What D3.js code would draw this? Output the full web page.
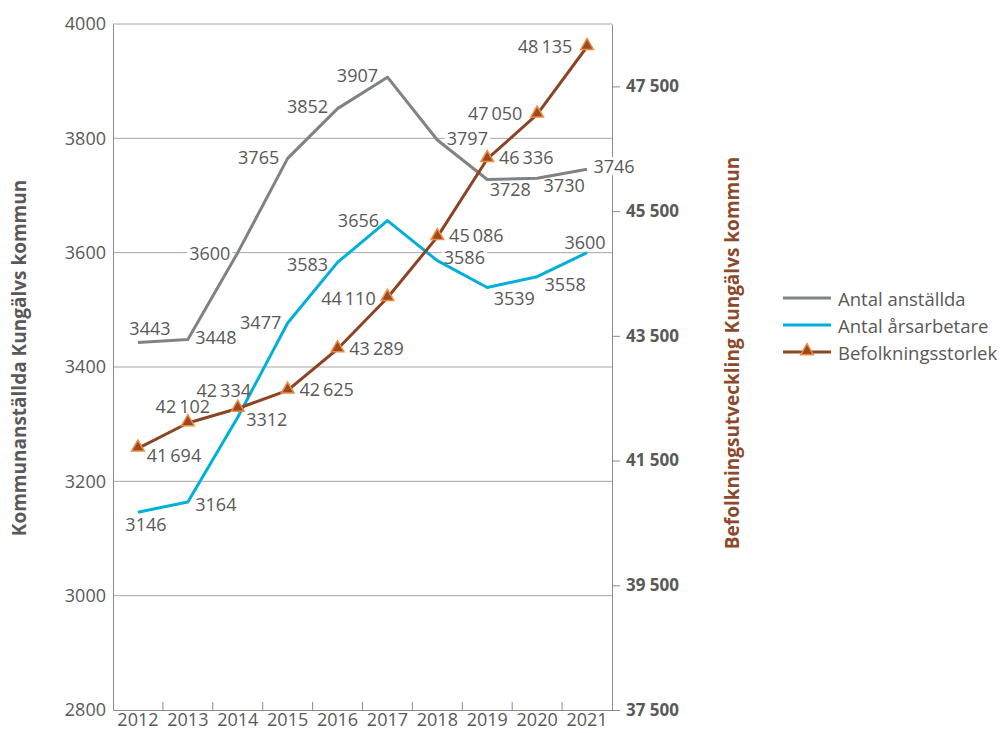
<!DOCTYPE html>
<html>
<head>
<meta charset="utf-8">
<script src="https://cdn.jsdelivr.net/npm/d3@7"></script>
<style>
  body { margin: 0; background: #fff; }
  text { font-family: "Open Sans", sans-serif; }
</style>
</head>
<body>
<div id="chart"></div>
<script>
const years = [2012, 2013, 2014, 2015, 2016, 2017, 2018, 2019, 2020, 2021];
const anstallda = [3443, 3448, 3600, 3765, 3852, 3907, 3797, 3728, 3730, 3746];
const arsarbetare = [3146, 3164, 3312, 3477, 3583, 3656, 3586, 3539, 3558, 3600];
const befolkning = [41694, 42102, 42334, 42625, 43289, 44110, 45086, 46336, 47050, 48135];
const leftTicks = [2800, 3000, 3200, 3400, 3600, 3800, 4000];
const rightTicks = [37500, 39500, 41500, 43500, 45500, 47500];
const seriesNames = ['Antal anställda', 'Antal årsarbetare', 'Befolkningsstorlek'];

// label offsets (label centre relative to point), as placed in the original
const offAnst = [[12, -14], [28, -3], [-28, 0], [-29, -1], [-30, -3], [-30, -2], [30, -2], [23, 10], [27, 7], [27, -3]];
const offArs = [[8, 12], [28, 2], [29, 2], [-27, -1], [-30, 2], [-29, -1], [27, -4], [27, 10], [28, 7], [-2, -11]];
const offBef = [[36, 7], [-5, -17], [-14, -19], [39, -1], [39, -1], [-39, 0], [39, -2], [39, -2], [-42, -1], [-42, -1]];

const width = 1000, height = 733;
const margin = { left: 113, top: 24, right: 388, bottom: 23 };
const innerW = width - margin.left - margin.right;
const innerH = height - margin.top - margin.bottom;

const textColor = '#595959';
const gridColor = '#a6a6a6';
const colors = { anst: '#7f8386', ars: '#00b0da', bef: '#8b4424' };

const svLocale = d3.formatLocale({ decimal: ',', thousands: '\u00a0', grouping: [3], currency: ['', ''] });
const axisFmt = svLocale.format(',d');
const labelFmt = d3.formatLocale({ decimal: ',', thousands: '\u2009', grouping: [3], currency: ['', ''] }).format(',d');

const svg = d3.select('#chart').append('svg')
  .attr('width', width)
  .attr('height', height);

const g = svg.append('g').attr('transform', `translate(${margin.left}, ${margin.top})`);

const x = d3.scaleBand().domain(years).range([0, innerW]).padding(0);
const y = d3.scaleLinear().domain([2800, 4000]).range([innerH, 0]);
const y2 = d3.scaleLinear().domain([37500, 48500]).range([innerH, 0]);
const cx = (d) => x(d) + x.bandwidth() / 2;

// gridlines
g.append('g').selectAll('line')
  .data(leftTicks.slice(1))
  .join('line')
  .attr('x1', 0).attr('x2', innerW)
  .attr('y1', (d) => y(d)).attr('y2', (d) => y(d))
  .attr('stroke', gridColor)
  .attr('stroke-width', 1);

// left axis
const leftAxis = g.append('g')
  .call(d3.axisLeft(y).tickValues(leftTicks).tickSize(0).tickPadding(7).tickFormat(d3.format('d')));
leftAxis.select('.domain').attr('stroke', '#8c8c8c');
leftAxis.selectAll('text').attr('font-size', '18px').attr('fill', textColor);

// right axis
const rightAxis = g.append('g')
  .attr('transform', `translate(${innerW}, 0)`)
  .call(d3.axisRight(y2).tickValues(rightTicks).tickSize(8).tickSizeOuter(0).tickPadding(6).tickFormat(axisFmt));
rightAxis.select('.domain').attr('stroke', '#8c8c8c');
rightAxis.selectAll('.tick line').attr('stroke', '#8c8c8c');
rightAxis.selectAll('text').attr('font-size', '17px').attr('font-weight', 'bold').attr('fill', textColor);

// bottom axis
const bottomAxis = g.append('g')
  .attr('transform', `translate(0, ${innerH})`)
  .call(d3.axisBottom(x).tickSize(0).tickPadding(3));
bottomAxis.select('.domain').attr('stroke', '#8c8c8c');
bottomAxis.selectAll('text').attr('font-size', '18px').attr('fill', textColor);
bottomAxis.append('g').selectAll('line')
  .data(years.slice(1))
  .join('line')
  .attr('x1', (d) => x(d)).attr('x2', (d) => x(d))
  .attr('y1', 0).attr('y2', -8)
  .attr('stroke', '#8c8c8c');

// axis titles
svg.append('text')
  .attr('transform', `translate(26, ${358}) rotate(-90)`)
  .attr('text-anchor', 'middle')
  .attr('font-size', '19px')
  .attr('font-weight', 'bold')
  .attr('fill', textColor)
  .text('Kommunanställda Kungälvs kommun');

svg.append('text')
  .attr('transform', `translate(739, ${353}) rotate(-90)`)
  .attr('text-anchor', 'middle')
  .attr('font-size', '19px')
  .attr('font-weight', 'bold')
  .attr('fill', '#8b4a2b')
  .text('Befolkningsutveckling Kungälvs kommun');

const series = [
  { key: 'anst', values: anstallda, scale: y, color: colors.anst, off: offAnst, fmt: d3.format('d'), marker: false },
  { key: 'ars', values: arsarbetare, scale: y, color: colors.ars, off: offArs, fmt: d3.format('d'), marker: false },
  { key: 'bef', values: befolkning, scale: y2, color: colors.bef, off: offBef, fmt: labelFmt, marker: true }
];

const labelBgG = g.append('g').attr('class', 'label-bg');
const lineG = g.append('g').attr('class', 'lines');
const labelG = g.append('g').attr('class', 'labels');

const triangle = d3.symbol().type(d3.symbolTriangle).size(70);

series.forEach((s) => {
  const pts = years.map((yr, i) => ({ yr, v: s.values[i], off: s.off[i] }));
  const line = d3.line().x((d) => cx(d.yr)).y((d) => s.scale(d.v));

  lineG.append('path')
    .datum(pts)
    .attr('d', line)
    .attr('fill', 'none')
    .attr('stroke', s.color)
    .attr('stroke-width', 3)
    .attr('stroke-linejoin', 'round');

  if (s.marker) {
    lineG.append('g').selectAll('path')
      .data(pts)
      .join('path')
      .attr('d', triangle)
      .attr('transform', (d) => `translate(${cx(d.yr)}, ${s.scale(d.v) - 1})`)
      .attr('fill', '#9a4a22')
      .attr('stroke', '#f08a3c')
      .attr('stroke-width', 1.5);
  }

  const texts = labelG.append('g').selectAll('text')
    .data(pts)
    .join('text')
    .attr('x', (d) => cx(d.yr) + d.off[0])
    .attr('y', (d) => s.scale(d.v) + d.off[1])
    .attr('text-anchor', 'middle')
    .attr('dominant-baseline', 'central')
    .attr('font-size', '18px')
    .attr('fill', textColor)
    .text((d) => s.fmt(d.v));

  texts.each(function () {
    const b = this.getBBox();
    labelBgG.append('rect')
      .attr('x', b.x - 2).attr('y', b.y + 3)
      .attr('width', b.width + 4).attr('height', b.height - 6)
      .attr('fill', '#fff');
  });
});

// legend
const legend = svg.append('g').attr('transform', 'translate(783, 298)');
const legendItems = legend.selectAll('g')
  .data(series)
  .join('g')
  .attr('transform', (d, i) => `translate(0, ${i * 27})`);

legendItems.append('line')
  .attr('x1', 0).attr('x2', 48)
  .attr('stroke', (d) => d.color)
  .attr('stroke-width', 3);

legendItems.filter((d) => d.marker)
  .append('path')
  .attr('d', triangle)
  .attr('transform', 'translate(24, -1)')
  .attr('fill', '#9a4a22')
  .attr('stroke', '#f08a3c')
  .attr('stroke-width', 1.5);

legendItems.append('text')
  .attr('x', 55)
  .attr('dominant-baseline', 'central')
  .attr('font-size', '18.5px')
  .attr('fill', textColor)
  .text((d, i) => seriesNames[i]);
</script>
</body>
</html>
